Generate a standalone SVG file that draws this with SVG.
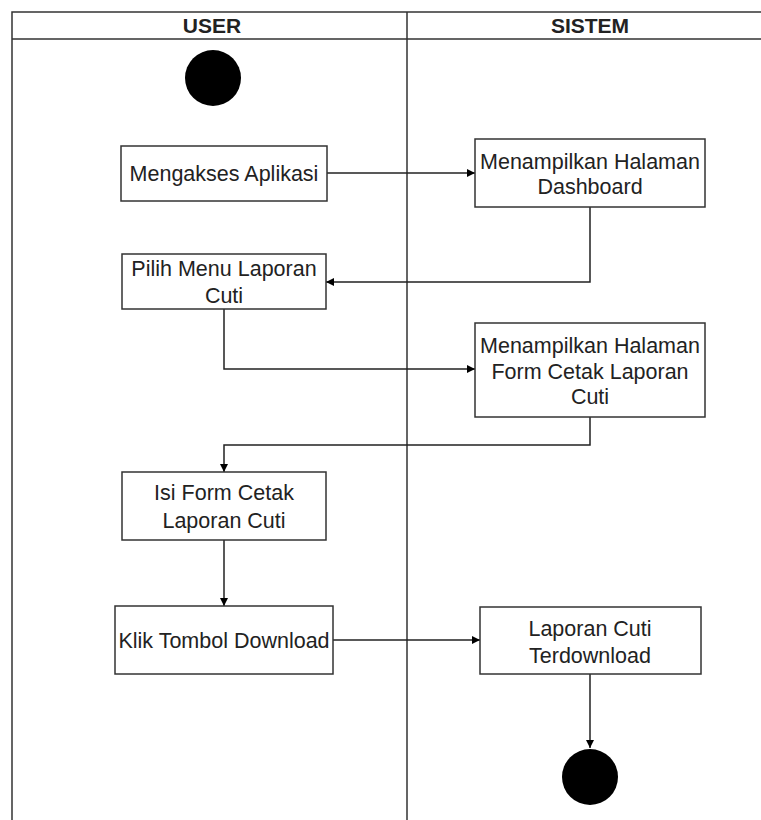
<svg xmlns="http://www.w3.org/2000/svg" width="761" height="820" viewBox="0 0 761 820">
<defs>
<marker id="arr" markerWidth="10" markerHeight="10" refX="9" refY="5" orient="auto" markerUnits="userSpaceOnUse">
<path d="M1,1 L9,5 L1,9 Z" fill="#000"/>
</marker>
<style>
.box{fill:#fff;stroke:#333;stroke-width:1.5}
.t{font-family:"Liberation Sans",Arial,sans-serif;font-size:21.5px;fill:#222;text-anchor:middle}
.h{font-family:"Liberation Sans",Arial,sans-serif;font-size:21px;font-weight:bold;fill:#222;text-anchor:middle}
.c{fill:none;stroke:#222;stroke-width:1.5;marker-end:url(#arr)}
.lane{fill:none;stroke:#333;stroke-width:1.5}
</style>
</defs>
<rect width="761" height="820" fill="#fff"/>
<g id="lanes">
<path class="lane" d="M12,820 V12 H761 M12,39 H761 M407,12 V820"/>
<text class="h" x="212" y="33">USER</text>
<text class="h" x="590" y="33">SISTEM</text>
</g>
<g id="connectors">
<path class="c" d="M327,173 H475"/>
<path class="c" d="M590,207 V282 H326"/>
<path class="c" d="M224,309 V369 H475"/>
<path class="c" d="M590,417 V445 H224 V472"/>
<path class="c" d="M224,540 V606"/>
<path class="c" d="M333,640 H480"/>
<path class="c" d="M590,674 V748"/>
</g>
<g id="start"><circle cx="213" cy="78" r="28" fill="#000"/></g>
<g id="n1"><rect class="box" x="121" y="146" width="206" height="55"/><text class="t" x="224" y="181">Mengakses Aplikasi</text></g>
<g id="n2"><rect class="box" x="475" y="139" width="230" height="68"/><text class="t" x="590" y="169">Menampilkan Halaman</text><text class="t" x="590" y="194">Dashboard</text></g>
<g id="n3"><rect class="box" x="122" y="254" width="204" height="55"/><text class="t" x="224" y="276">Pilih Menu Laporan</text><text class="t" x="224" y="303">Cuti</text></g>
<g id="n4"><rect class="box" x="475" y="323" width="230" height="94"/><text class="t" x="590" y="353">Menampilkan Halaman</text><text class="t" x="590" y="379">Form Cetak Laporan</text><text class="t" x="590" y="404">Cuti</text></g>
<g id="n5"><rect class="box" x="122" y="472" width="204" height="68"/><text class="t" x="224" y="500">Isi Form Cetak</text><text class="t" x="224" y="528">Laporan Cuti</text></g>
<g id="n6"><rect class="box" x="115" y="606" width="218" height="68"/><text class="t" x="224" y="648">Klik Tombol Download</text></g>
<g id="n7"><rect class="box" x="480" y="607" width="221" height="67"/><text class="t" x="590" y="636">Laporan Cuti</text><text class="t" x="590" y="663">Terdownload</text></g>
<g id="end"><ellipse cx="590" cy="777" rx="28" ry="28" fill="#000"/></g>
</svg>
